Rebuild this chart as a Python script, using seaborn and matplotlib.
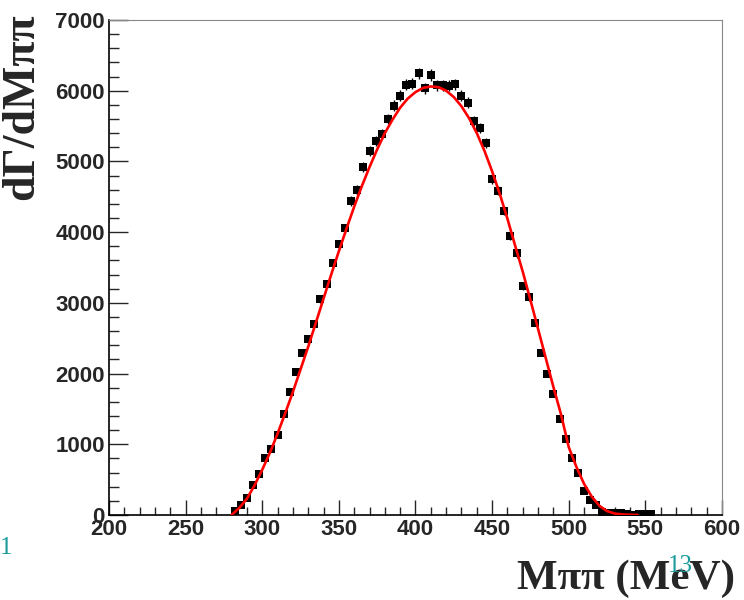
import numpy as np
import pandas as pd
import seaborn as sns
import matplotlib.pyplot as plt
from matplotlib.ticker import MultipleLocator

# measured points: bin centres (MeV) and counts
m_pipi = [282, 286, 290, 294, 298, 302, 306, 310, 314, 318,
          322, 326, 330, 334, 338, 342, 346, 350, 354, 358,
          362, 366, 370, 374, 378, 382, 386, 390, 394, 398,
          402, 406, 410, 414, 418, 422, 426, 430, 434, 438,
          442, 446, 450, 454, 458, 462, 466, 470, 474, 478,
          482, 486, 490, 494, 498, 502, 506, 510, 514, 518,
          522, 526, 530, 534, 538, 542, 546, 550, 554]
counts = [57, 141, 245, 424, 580, 810, 934, 1132, 1433, 1735,
          2027, 2296, 2489, 2697, 3051, 3272, 3565, 3829, 4055, 4441,
          4597, 4926, 5149, 5290, 5389, 5597, 5789, 5926, 6082, 6096,
          6247, 6035, 6223, 6080, 6080, 6070, 6090, 5931, 5832, 5573,
          5470, 5257, 4752, 4587, 4304, 3946, 3701, 3243, 3088, 2720,
          2296, 1990, 1711, 1354, 1075, 802, 590, 344, 212, 141,
          38, 24, 33, 24, 8, 6, 15, 15, 15]

# fit curve
fit_m = [280, 285, 290, 295, 300, 305, 310, 315, 320, 325,
         330, 335, 340, 345, 350, 355, 360, 365, 370, 375,
         380, 385, 390, 395, 400, 405, 410, 415, 420, 425,
         430, 435, 440, 445, 450, 455, 460, 465, 470, 475,
         480, 485, 490, 495, 500, 505, 510, 515, 520, 525,
         530, 535, 540, 545]
fit_val = [0, 100, 230, 420, 640, 880, 1150, 1440, 1740, 2060,
           2380, 2720, 3060, 3400, 3730, 4050, 4360, 4650, 4920, 5170,
           5400, 5590, 5760, 5890, 5980, 6040, 6060, 6050, 6000, 5910,
           5780, 5610, 5400, 5150, 4860, 4540, 4190, 3810, 3440, 3040,
           2630, 2220, 1810, 1420, 960, 680, 440, 260, 130, 55,
           20, 8, 2, 0]

data = pd.DataFrame({"m": m_pipi, "n": counts})
fit = pd.DataFrame({"m": fit_m, "v": fit_val})

sns.set_style("ticks")
plt.rcParams['font.family'] = ['Liberation Sans', 'DejaVu Sans']

fig = plt.figure(figsize=(7.44, 6), dpi=100)
ax = fig.add_axes([0.1465, 0.1417, 0.8239, 0.825])

ax.errorbar(data["m"], data["n"], yerr=np.sqrt(data["n"]), fmt='none',
            ecolor='black', elinewidth=1, zorder=2)
sns.scatterplot(data=data, x="m", y="n", marker='s', s=30, color='black',
                edgecolor='black', linewidth=0, ax=ax, zorder=3)
sns.lineplot(data=fit, x="m", y="v", color='red', linewidth=1.9, ax=ax, zorder=4)

ax.set_xlim(200, 600)
ax.set_ylim(0, 7000)
ax.set_xlabel("")
ax.set_ylabel("")

ax.xaxis.set_major_locator(MultipleLocator(50))
ax.xaxis.set_minor_locator(MultipleLocator(10))
ax.yaxis.set_major_locator(MultipleLocator(1000))
ax.yaxis.set_minor_locator(MultipleLocator(200))
ax.tick_params(axis='x', which='major', direction='in', length=11, width=1, pad=3)
ax.tick_params(axis='x', which='minor', direction='in', length=6, width=1)
ax.tick_params(axis='y', which='major', direction='in', length=13.5, width=1, pad=3)
ax.tick_params(axis='y', which='minor', direction='in', length=7, width=1)
for lab in ax.get_xticklabels() + ax.get_yticklabels():
    lab.set_fontsize(16)
    lab.set_fontweight('bold')

for side in ['top', 'right']:
    ax.spines[side].set_visible(True)
    ax.spines[side].set_color('#888888')
    ax.spines[side].set_linewidth(0.8)
for side in ['left', 'bottom']:
    ax.spines[side].set_color('black')
    ax.spines[side].set_linewidth(1.2)

fig.text(0.03, 0.977, "dΓ/dMππ", rotation=90, ha='center', va='top',
         family=['Liberation Serif', 'DejaVu Serif'], fontsize=33, fontweight='bold')
fig.text(0.988, 0.035, "Mππ (MeV)", ha='right', va='center',
         family=['Liberation Serif', 'DejaVu Serif'], fontsize=31, fontweight='bold')

# page numbers from the slide
fig.text(0.0, 0.087, "1", ha='left', va='center', color='#1a9a9a',
         family=['Liberation Serif', 'DejaVu Serif'], fontsize=18)
fig.text(0.914, 0.057, "13", ha='center', va='center', color='#1a9a9a',
         family=['Liberation Serif', 'DejaVu Serif'], fontsize=18)

fig.savefig("out.png", dpi=100)
